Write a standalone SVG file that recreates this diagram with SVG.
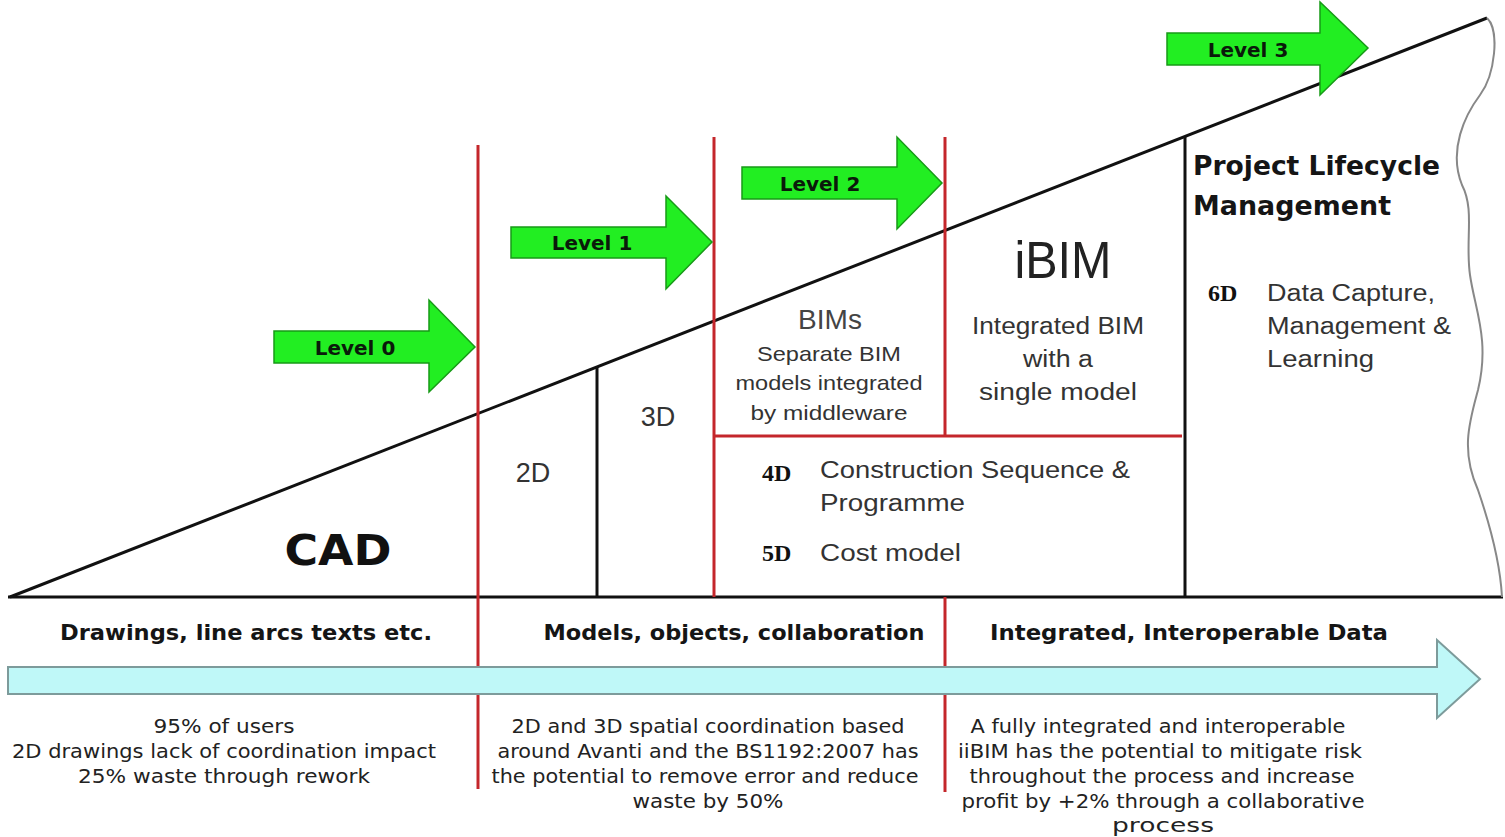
<svg xmlns="http://www.w3.org/2000/svg" width="1505" height="837" viewBox="0 0 1505 837">
<style>
.red{stroke:#c4262b;stroke-width:3;fill:none}
.blk{stroke:#111;stroke-width:3;fill:none}
.green{fill:#22ee22;stroke:#179a17;stroke-width:1.5}
.lvl{font-family:"DejaVu Sans",Verdana,sans-serif;font-weight:bold;font-size:20px;fill:#0a1a0a;text-anchor:middle}
.hdr{font-family:"DejaVu Sans",Verdana,sans-serif;font-weight:bold;font-size:21px;fill:#151515;text-anchor:middle}
.para{font-family:"DejaVu Sans",Verdana,sans-serif;font-size:19px;fill:#222;text-anchor:middle}
.reg{font-family:"Liberation Sans",Arial,sans-serif;font-size:23px;fill:#333}
.mid{text-anchor:middle}
.dn{font-family:"Liberation Serif","Times New Roman",serif;font-weight:bold;font-size:24px;fill:#111}
</style>
<rect width="1505" height="837" fill="#fff"/>
<g id="connectors">
<line class="blk" x1="10" y1="597" x2="1487" y2="18"/>
<line class="blk" x1="8" y1="597" x2="1503" y2="597"/>
<path d="M1487,18 C1500,30 1495,75 1480,95 C1465,115 1448,150 1462,185 C1475,210 1465,240 1470,275 C1475,310 1490,340 1478,390 C1470,420 1460,450 1478,490 C1490,525 1500,560 1502,597" fill="none" stroke="#888" stroke-width="2"/>
<line class="blk" x1="597" y1="367" x2="597" y2="597"/>
<line class="blk" x1="1185" y1="136" x2="1185" y2="597"/>
<line class="red" x1="478" y1="145" x2="478" y2="666"/>
<line class="red" x1="478" y1="694" x2="478" y2="789"/>
<line class="red" x1="714" y1="137" x2="714" y2="597"/>
<line class="red" x1="945" y1="137" x2="945" y2="436"/>
<line class="red" x1="945" y1="597" x2="945" y2="666"/>
<line class="red" x1="945" y1="694" x2="945" y2="792"/>
<line class="red" x1="714" y1="436" x2="1182" y2="436"/>
</g>
<g id="data-arrow">
<polygon points="8,667 1437,667 1437,640 1480,679 1437,718 1437,694 8,694" fill="#bff8f8" stroke="#7d9b9b" stroke-width="2"/>
</g>
<g id="level0">
<polygon class="green" points="274,331 429,331 429,300 475,347 429,392 429,363 274,363"/>
<text class="lvl" x="355" y="355">Level 0</text>
</g>
<g id="level1">
<polygon class="green" points="511,227 666,227 666,196 712,242 666,289 666,258 511,258"/>
<text class="lvl" x="592" y="250">Level 1</text>
</g>
<g id="level2">
<polygon class="green" points="742,167 897,167 897,137 942,183 897,229 897,199 742,199"/>
<text class="lvl" x="820" y="191">Level 2</text>
</g>
<g id="level3">
<polygon class="green" points="1167,33 1320,33 1320,2 1368,48 1320,95 1320,65 1167,65"/>
<text class="lvl" x="1248" y="57">Level 3</text>
</g>
<g id="cad">
<text x="338" y="565" style="font-family:'DejaVu Sans',Verdana,sans-serif;font-weight:bold;font-size:43px;fill:#111;text-anchor:middle" textLength="107" lengthAdjust="spacingAndGlyphs">CAD</text>
</g>
<g id="d2">
<text class="reg mid" x="533" y="482" style="font-size:27px">2D</text>
</g>
<g id="d3">
<text class="reg mid" x="658" y="426" style="font-size:27px">3D</text>
</g>
<g id="bims">
<text class="reg mid" x="830" y="329" style="font-size:28px;fill:#444">BIMs</text>
<text class="reg mid" x="829" y="361" style="font-size:21px" textLength="144" lengthAdjust="spacingAndGlyphs">Separate BIM</text>
<text class="reg mid" x="829" y="390" style="font-size:21px" textLength="187" lengthAdjust="spacingAndGlyphs">models integrated</text>
<text class="reg mid" x="829" y="420" style="font-size:21px" textLength="157" lengthAdjust="spacingAndGlyphs">by middleware</text>
</g>
<g id="ibim">
<text class="reg mid" x="1063" y="278" style="font-size:52px;fill:#222" textLength="97" lengthAdjust="spacingAndGlyphs">iBIM</text>
<text class="reg mid" x="1058" y="334" textLength="172" lengthAdjust="spacingAndGlyphs">Integrated BIM</text>
<text class="reg mid" x="1058" y="367" textLength="70" lengthAdjust="spacingAndGlyphs">with a</text>
<text class="reg mid" x="1058" y="400" textLength="158" lengthAdjust="spacingAndGlyphs">single model</text>
</g>
<g id="dims45">
<text class="dn" x="762" y="481">4D</text>
<text class="reg" x="820" y="478" textLength="310" lengthAdjust="spacingAndGlyphs">Construction Sequence &amp;</text>
<text class="reg" x="820" y="511" textLength="145" lengthAdjust="spacingAndGlyphs">Programme</text>
<text class="dn" x="762" y="561">5D</text>
<text class="reg" x="820" y="561" textLength="141" lengthAdjust="spacingAndGlyphs">Cost model</text>
</g>
<g id="plm">
<text x="1193" y="175" style="font-family:'DejaVu Sans',Verdana,sans-serif;font-weight:bold;font-size:27px;fill:#151515" textLength="247" lengthAdjust="spacingAndGlyphs">Project Lifecycle</text>
<text x="1193" y="215" style="font-family:'DejaVu Sans',Verdana,sans-serif;font-weight:bold;font-size:27px;fill:#151515" textLength="198" lengthAdjust="spacingAndGlyphs">Management</text>
<text class="dn" x="1208" y="301">6D</text>
<text class="reg" x="1267" y="301" textLength="168" lengthAdjust="spacingAndGlyphs">Data Capture,</text>
<text class="reg" x="1267" y="334" textLength="184" lengthAdjust="spacingAndGlyphs">Management &amp;</text>
<text class="reg" x="1267" y="367" textLength="107" lengthAdjust="spacingAndGlyphs">Learning</text>
</g>
<g id="phase1">
<text class="hdr" x="246" y="640" textLength="372" lengthAdjust="spacingAndGlyphs">Drawings, line arcs texts etc.</text>
<text class="para" x="224" y="733" textLength="141" lengthAdjust="spacingAndGlyphs">95% of users</text>
<text class="para" x="224" y="758" textLength="424" lengthAdjust="spacingAndGlyphs">2D drawings lack of coordination impact</text>
<text class="para" x="224" y="783" textLength="292" lengthAdjust="spacingAndGlyphs">25% waste through rework</text>
</g>
<g id="phase2">
<text class="hdr" x="734" y="640" textLength="381" lengthAdjust="spacingAndGlyphs">Models, objects, collaboration</text>
<text class="para" x="708" y="733" textLength="393" lengthAdjust="spacingAndGlyphs">2D and 3D spatial coordination based</text>
<text class="para" x="708" y="758" textLength="421" lengthAdjust="spacingAndGlyphs">around Avanti and the BS1192:2007 has</text>
<text class="para" x="705" y="783" textLength="427" lengthAdjust="spacingAndGlyphs">the potential to remove error and reduce</text>
<text class="para" x="708" y="808" textLength="151" lengthAdjust="spacingAndGlyphs">waste by 50%</text>
</g>
<g id="phase3">
<text class="hdr" x="1189" y="640" textLength="398" lengthAdjust="spacingAndGlyphs">Integrated, Interoperable Data</text>
<text class="para" x="1158" y="733" textLength="375" lengthAdjust="spacingAndGlyphs">A fully integrated and interoperable</text>
<text class="para" x="1160" y="758" textLength="404" lengthAdjust="spacingAndGlyphs">iiBIM has the potential to mitigate risk</text>
<text class="para" x="1162" y="783" textLength="385" lengthAdjust="spacingAndGlyphs">throughout the process and increase</text>
<text class="para" x="1163" y="808" textLength="403" lengthAdjust="spacingAndGlyphs">profit by +2% through a collaborative</text>
<text class="para" x="1163" y="832" textLength="102" lengthAdjust="spacingAndGlyphs">process</text>
</g>
</svg>
